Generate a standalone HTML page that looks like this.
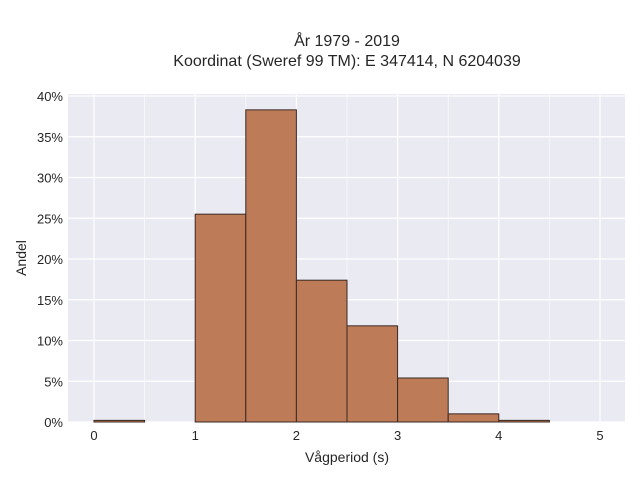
<!DOCTYPE html>
<html><head><meta charset="utf-8"><style>
body{margin:0;background:#fff;font-family:"Liberation Sans",sans-serif;}
svg text{font-family:"Liberation Sans",sans-serif;fill:#262626;}
</style></head><body>
<svg id="chart" width="640" height="480" xmlns="http://www.w3.org/2000/svg">
<text x="347" y="46" font-size="16" text-anchor="middle">År 1979 - 2019</text>
<text x="347" y="66" font-size="16" text-anchor="middle">Koordinat (Sweref 99 TM): E 347414, N 6204039</text>
<rect x="68" y="94" width="557" height="328" fill="#eaeaf2"/>
<g id="grid"></g><g id="bars"></g><g id="ticks"></g>
<text x="347" y="462" font-size="14" text-anchor="middle">Vågperiod (s)</text>
<text x="26" y="258" font-size="14" text-anchor="middle" transform="rotate(-90 26 258)">Andel</text>
</svg>
<script>
const binStarts=[0,0.5,1,1.5,2,2.5,3,3.5,4,4.5];
const shares=[0.2,0,25.5,38.3,17.4,11.8,5.4,1.0,0.2,0];
const xTicks=[0,1,2,3,4,5];
const yTicks=[0,5,10,15,20,25,30,35,40];
const binWidth=0.5;
const NS="http://www.w3.org/2000/svg";
const xs=v=>94+v*101.2;
const ys=v=>422-v*8.15;
const grid=document.getElementById('grid'),bars=document.getElementById('bars'),ticks=document.getElementById('ticks');
function mk(tag,attrs,parent){const e=document.createElementNS(NS,tag);for(const k in attrs)e.setAttribute(k,attrs[k]);parent.appendChild(e);return e;}
for(let i=0;i<xTicks.length;i++){
  const v=xTicks[i];
  const l=mk('line',{x1:xs(v),x2:xs(v),y1:94,y2:422,stroke:'#fff','stroke-width':1.2},grid);
  
  
  if(i<xTicks.length-1){
    const m=mk('line',{x1:xs(v+0.5),x2:xs(v+0.5),y1:94,y2:422,stroke:'#fff','stroke-width':0.6},grid);
    
    
  }
  const t=mk('text',{x:xs(v),y:440,'font-size':13,'text-anchor':'middle'},ticks);
  t.textContent=v;
  
  
}
for(const v of yTicks){
  const l=mk('line',{x1:68,x2:625,y1:ys(v),y2:ys(v),stroke:'#fff','stroke-width':1.2},grid);
  
  
  const t=mk('text',{x:63,y:ys(v)+5,'font-size':13,'text-anchor':'end'},ticks);
  t.textContent=v+'%';
  
  
}
for(let i=0;i<binStarts.length;i++){
  if(shares[i]<=0)continue;
  const x0=xs(binStarts[i]),x1=xs(binStarts[i]+binWidth),y=ys(shares[i]);
  const r=mk('rect',{x:x0,y:y,width:x1-x0,height:422-y,fill:'#bd7b57',stroke:'#3a2a22','stroke-width':1},bars);
  
  
}
</script>
</body></html>
